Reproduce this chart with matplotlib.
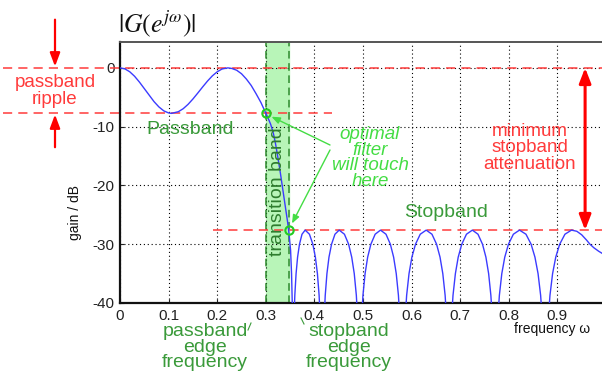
import matplotlib
matplotlib.use("Agg")
import matplotlib.pyplot as plt

plt.rcParams['font.family'] = ['Liberation Sans', 'DejaVu Sans']
plt.rcParams['mathtext.fontset'] = 'stix'

# ---- data ----
# passband + transition band
pass_f = [0.00, 0.01, 0.02, 0.03, 0.04, 0.05, 0.06, 0.07, 0.08, 0.09, 0.10, 0.106,
          0.12, 0.13, 0.14, 0.15, 0.16, 0.17, 0.18, 0.19, 0.20, 0.21, 0.222,
          0.23, 0.24, 0.25, 0.26, 0.27, 0.28, 0.29, 0.30,
          0.305, 0.31, 0.3155, 0.32, 0.325, 0.33, 0.335, 0.34, 0.345, 0.347,
          0.351, 0.353, 0.355]
pass_db = [0.0, -0.17, -0.66, -1.43, -2.42, -3.53, -4.67, -5.74, -6.64, -7.31, -7.67, -7.74,
           -7.46, -6.95, -6.21, -5.30, -4.29, -3.25, -2.25, -1.36, -0.67, -0.19, 0.0,
           -0.1, -0.4, -1.0, -1.9, -3.0, -4.4, -5.9, -7.7,
           -8.6, -9.6, -11.1, -12.9, -15.3, -17.9, -20.7, -23.5, -26.3, -27.6,
           -31.0, -35.0, -42.0]
# stopband lobes (values below -40 are clipped by the axes)
stop_f = [0.3576, 0.3597, 0.3623, 0.3654, 0.3693, 0.3745, 0.381, 0.3898, 0.3968, 0.402, 0.4062, 0.4097, 0.4125,
          0.4195, 0.4223, 0.4258, 0.4300, 0.4353, 0.4423, 0.451, 0.4618, 0.4704, 0.4768, 0.4820, 0.4863, 0.4897,
          0.4964, 0.4999, 0.5043, 0.5096, 0.5162, 0.5250, 0.536, 0.5473, 0.5563, 0.5630, 0.5684, 0.5729, 0.5765,
          0.5859, 0.5898, 0.5947, 0.6006, 0.6080, 0.6178, 0.630, 0.6419, 0.6514, 0.6585, 0.6642, 0.6690, 0.6728,
          0.6813, 0.6852, 0.6901, 0.6959, 0.7032, 0.7129, 0.725, 0.7366, 0.7459, 0.7529, 0.7585, 0.7631, 0.7669,
          0.7765, 0.7806, 0.7856, 0.7917, 0.7993, 0.8094, 0.822, 0.8353, 0.8459, 0.8538, 0.8602, 0.8655, 0.8697,
          0.8804, 0.8847, 0.8901, 0.8966, 0.9047, 0.9155, 0.929, 0.940, 0.950, 0.960, 0.967, 0.975, 0.985, 0.995, 1.0]
lobe_db = [-43.7, -38.7, -35.0, -32.2, -30.0, -28.3, -27.6, -28.3, -30.0, -32.2, -35.0, -38.7, -43.7]
stop_db = lobe_db * 6 + [-43.7, -38.7, -35.0, -32.2, -30.0, -28.3, -27.6,
                          -27.8, -28.4, -29.3, -30.0, -30.6, -31.2, -31.7, -31.9]

freq = pass_f + stop_f
gain = pass_db + stop_db

ripple_db = -7.7          # passband ripple level
atten_db = -27.6          # minimum stopband attenuation level
pass_edge = 0.300
stop_edge = 0.347

xticks = [0, 0.1, 0.2, 0.3, 0.4, 0.5, 0.6, 0.7, 0.8, 0.9]
xticklabels = ['0', '0.1', '0.2', '0.3', '0.4', '0.5', '0.6', '0.7', '0.8', '0.9']
yticks = [-40, -30, -20, -10, 0]
yticklabels = ['-40', '-30', '-20', '-10', '0']

# ---- figure ----
W, H = 602, 374
fig = plt.figure(figsize=(W / 100, H / 100), dpi=100)


def fp(x, y):
    return (x / W, 1 - y / H)


ax = fig.add_axes([120 / W, (H - 303) / H, 486 / W, 261 / H])
ax.set_xlim(0, 1)
ax.set_ylim(-40, 4.4)

red = '#ff3b3b'
green_dark = '#3a9a3a'
green_light = '#44dd44'

# transition band
ax.axvspan(pass_edge, stop_edge, color='#b8f5b8', zorder=0)
for e in (pass_edge, stop_edge):
    ax.axvline(e, color='#2e8b2e', ls=(0, (5, 3)), lw=1.1, zorder=1)

ax.grid(True, color='black', ls=(0, (1, 2.5)), lw=0.8)
ax.set_axisbelow(True)

ax.plot(freq, gain, color='#3b3bff', lw=1.0, zorder=3)

# red dashed level lines (extend outside axes)
ax.plot([-0.24, 1.0], [0, 0], color=red, ls=(0, (6, 4)), lw=1.1, clip_on=False, zorder=2)
ax.plot([-0.24, 0.436], [ripple_db, ripple_db], color=red, ls=(0, (6, 4)), lw=1.1, clip_on=False, zorder=2)
ax.plot([0.191, 1.0], [atten_db, atten_db], color=red, ls=(0, (6, 4)), lw=1.1, clip_on=False, zorder=2)

# touch points
ax.plot([pass_edge, stop_edge], [ripple_db, atten_db], 'o', ms=6, mfc='none',
        mec='#22cc22', mew=1.5, zorder=4)

ax.set_xticks(xticks)
ax.set_xticklabels(xticklabels)
ax.set_yticks(yticks)
ax.set_yticklabels(yticklabels)
ax.tick_params(direction='in', length=3, labelsize=11, colors='#222222', pad=4)

for s in ('left', 'bottom'):
    ax.spines[s].set_color('#111111')
    ax.spines[s].set_linewidth(1.6)
ax.spines['top'].set_color('#555555')
ax.spines['top'].set_linewidth(1.4)
ax.spines['right'].set_visible(False)

# title and axis labels
fig.text(*fp(118, 24), r'$|G(e^{j\omega})|$', fontsize=18.5, ha='left', va='center', color='#111111')
fig.text(*fp(75, 212), 'gain / dB', rotation=90, fontsize=10, ha='center', va='center', color='#111111')
fig.text(*fp(590, 329), 'frequency ω', fontsize=10, ha='right', va='center', color='#111111')

# left ripple annotation
ax.annotate('', xy=(55 / W, 0), xytext=(55 / W, 8.2), xycoords=('figure fraction', 'data'),
            textcoords=('figure fraction', 'data'),
            arrowprops=dict(arrowstyle='-|>,head_width=0.3,head_length=0.8', color='red', lw=1.6,
                            shrinkA=0, shrinkB=1), annotation_clip=False)
ax.annotate('', xy=(55 / W, ripple_db), xytext=(55 / W, -13.5), xycoords=('figure fraction', 'data'),
            textcoords=('figure fraction', 'data'),
            arrowprops=dict(arrowstyle='-|>,head_width=0.3,head_length=0.8', color='red', lw=1.6,
                            shrinkA=0, shrinkB=1), annotation_clip=False)
fig.text(*fp(55, 91), 'passband\nripple', fontsize=13.5, ha='center', va='center', color=red,
         linespacing=1.0)

# right attenuation arrow
ax.annotate('', xy=(0.957, 0), xytext=(0.957, atten_db),
            arrowprops=dict(arrowstyle='<|-|>,head_width=0.35,head_length=0.9', color='red', lw=2.2,
                            shrinkA=0, shrinkB=0), annotation_clip=False)
fig.text(*fp(530, 148), 'minimum\nstopband\nattenuation', fontsize=13.5, ha='center', va='center',
         color=red, linespacing=0.95)

# band labels
fig.text(*fp(190, 129), 'Passband', fontsize=14, ha='center', va='center', color=green_dark)
fig.text(*fp(446, 212), 'Stopband', fontsize=14, ha='center', va='center', color=green_dark)
ax.text((pass_edge + stop_edge) / 2, -21.0, 'transition band', rotation=90, fontsize=14,
        ha='center', va='center', color='#2e7d2e')

# optimal filter note
fig.text(*fp(370, 158), 'optimal\nfilter\nwill touch\nhere', fontsize=13.5, ha='center', va='center',
         color=green_light, style='italic', linespacing=0.92)
ax.annotate('', xy=(pass_edge + 0.004, ripple_db - 0.3), xytext=fp(330, 145),
            textcoords='figure fraction',
            arrowprops=dict(arrowstyle='-|>,head_width=0.2,head_length=0.5', color=green_light, lw=1.0,
                            shrinkA=0, shrinkB=3))
ax.annotate('', xy=(stop_edge + 0.003, atten_db + 0.5), xytext=fp(330, 150),
            textcoords='figure fraction',
            arrowprops=dict(arrowstyle='-|>,head_width=0.2,head_length=0.5', color=green_light, lw=1.0,
                            shrinkA=0, shrinkB=3))

# edge frequency labels
fig.text(*fp(205, 347), 'passband\nedge\nfrequency', fontsize=14, ha='center', va='center',
         color=green_dark, linespacing=0.92)
fig.text(*fp(349, 347), 'stopband\nedge\nfrequency', fontsize=14, ha='center', va='center',
         color=green_dark, linespacing=0.92)
fig.add_artist(plt.Line2D([248 / W, 251 / W], [1 - 330 / H, 1 - 323 / H], color=green_dark, lw=0.8))
fig.add_artist(plt.Line2D([301 / W, 304 / W], [1 - 318 / H, 1 - 324 / H], color=green_dark, lw=0.8))

fig.savefig('out.png', dpi=100)
